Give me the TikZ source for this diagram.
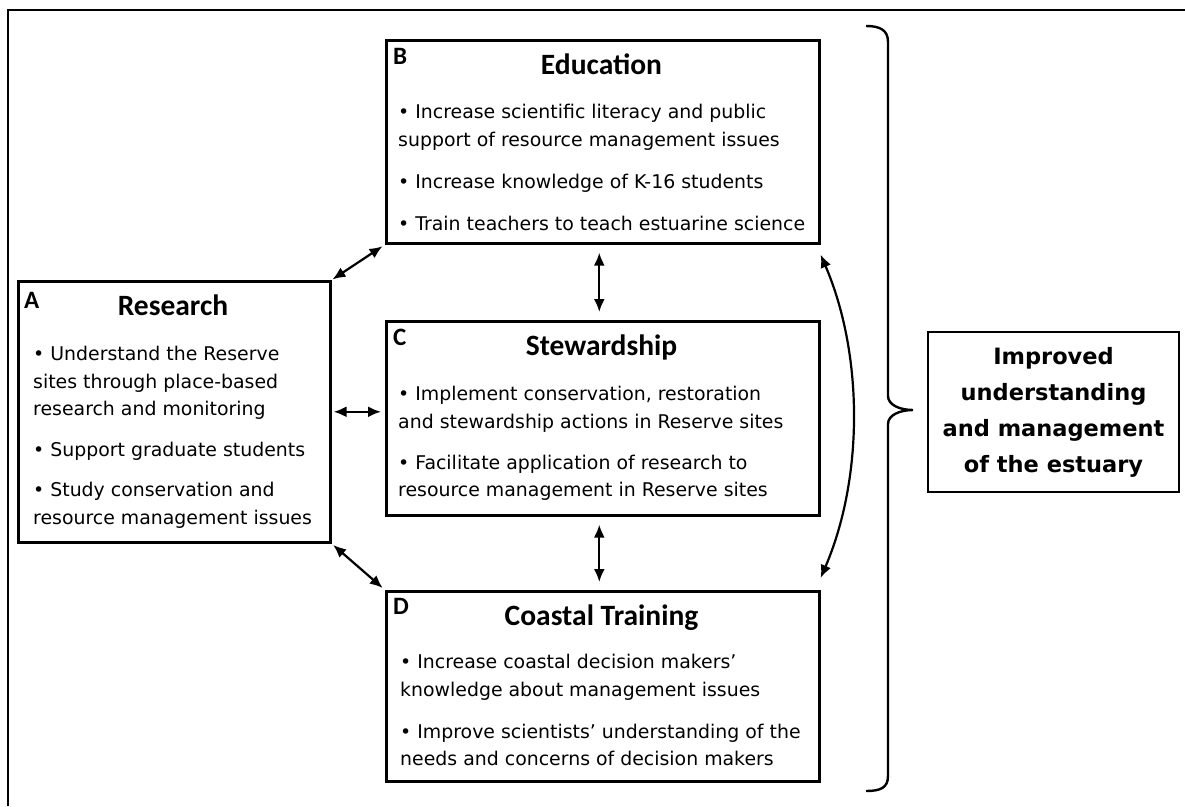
\documentclass[tikz,border=0pt]{standalone}
\usepackage{fontspec}
\setmainfont{DejaVu Sans}
\newfontfamily\calfont{Carlito}
\usetikzlibrary{arrows.meta,calc}
\begin{document}
\begin{tikzpicture}[x=1pt,y=-1pt,
  box/.style={draw, line width=2.6pt, inner sep=0pt, anchor=north west},
  conn/.style={line width=2.2pt, {Latex[length=13pt,width=11pt]}-{Latex[length=13pt,width=11pt]}},
  ttl/.style={font=\calfont\bfseries\fontsize{29.5}{32}\selectfont, anchor=base, inner sep=0pt},
  lbl/.style={font=\calfont\bfseries\fontsize{25}{28}\selectfont, anchor=base west, inner sep=0pt},
  body/.style={font=\fontsize{18.9}{27.5}\selectfont, align=left, anchor=north west, inner sep=0pt},
  goal/.style={draw, line width=2.6pt, font=\bfseries\fontsize{22.5}{36}\selectfont, align=center, inner sep=0pt}]
\useasboundingbox (0,0) rectangle (1185,806);
\draw[line width=2.6pt] (8,806) -- (8,10) -- (1185,10);

% boxes
\node[box, minimum width=312pt, minimum height=261pt] (A) at (17,280) {};
\node[box, minimum width=433pt, minimum height=203pt] (B) at (385,39) {};
\node[box, minimum width=433pt, minimum height=194pt] (C) at (385,320) {};
\node[box, minimum width=433pt, minimum height=190pt] (D) at (385,590) {};
\node[goal, minimum width=251pt, minimum height=160pt] (G) at (1053.5,412)
  {Improved\\understanding\\and management\\of the estuary};

% labels
\node[lbl] (Al) at (24,308) {A};
\node[lbl] (Bl) at (393,64) {B};
\node[lbl] (Cl) at (393,345) {C};
\node[lbl] (Dl) at (393,614) {D};

% titles
\node[ttl] (At) at (173,315) {Research};
\node[ttl] (Bt) at (601.5,74) {Education};
\node[ttl] (Ct) at (601.5,355) {Stewardship};
\node[ttl] (Dt) at (601.5,625) {Coastal Training};

% bodies
\node[body] (Ab) at (33,346) {• Understand the Reserve\\sites through place-based\\research and monitoring\\[13pt]• Support graduate students\\[13pt]• Study conservation and\\resource management issues};
\node[body] (Bb) at (398,104) {• Increase scientific literacy and public\\support of resource management issues\\[14.5pt]• Increase knowledge of K-16 students\\[15pt]• Train teachers to teach estuarine science};
\node[body] (Cb) at (398,386) {• Implement conservation, restoration\\and stewardship actions in Reserve sites\\[13.5pt]• Facilitate application of research to\\resource management in Reserve sites};
\node[body] (Db) at (400,654) {• Increase coastal decision makers’\\knowledge about management issues\\[14.5pt]• Improve scientists’ understanding of the\\needs and concerns of decision makers};

% connectors
\draw[conn, shorten <=1pt, shorten >=3pt] (A.north east) -- (B.south west);
\draw[conn, shorten <=2pt, shorten >=4pt] (A.east) -- (A.east -| C.west);
\draw[conn, shorten <=2pt, shorten >=3pt] (A.south east) -- (D.north west);
\draw[conn, shorten <=8pt, shorten >=8pt] ([xshift=-3.5pt]B.south) -- ([xshift=-3.5pt]C.north);
\draw[conn, shorten <=8pt, shorten >=8pt] ([xshift=-3.5pt]C.south) -- ([xshift=-3.5pt]D.north);
\draw[conn] ([yshift=-10pt]B.south east) .. controls +(43,100) and +(43,-100) .. ([yshift=12pt]D.north east);

% brace
\draw[line width=2.4pt] (866,26) .. controls (880,26) and (888,30) .. (888,42) -- (888,396)
  .. controls (888,405) and (900,410) .. (913,410)
  .. controls (900,410) and (888,415) .. (888,424) -- (888,776)
  .. controls (888,788) and (880,791) .. (866,791);
\end{tikzpicture}
\end{document}
